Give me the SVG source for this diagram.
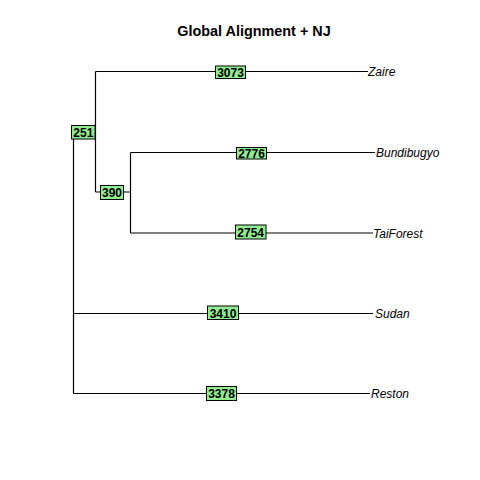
<svg xmlns="http://www.w3.org/2000/svg" width="480" height="480" viewBox="0 0 480 480">
  <style>
    .edge { stroke: #000; stroke-width: 1.2; fill: none; }
    .box { fill: #90EE90; stroke: #000; stroke-width: 1; }
    .num { font-family: "Liberation Sans", Arial, sans-serif; font-size: 12px; font-weight: bold; text-anchor: middle; fill: #000; }
    .tip { font-family: "Liberation Sans", Arial, sans-serif; font-size: 12px; font-style: italic; fill: #000; }
    .title { font-family: "Liberation Sans", Arial, sans-serif; font-size: 14.4px; font-weight: bold; text-anchor: middle; fill: #000; }
  </style>
  <rect width="480" height="480" fill="#fff"/>
  <text class="title" x="254" y="36">Global Alignment + NJ</text>

  <!-- tree branches -->
  <g id="edges">
    <path class="edge" d="M73.5,132 V393.5"/>
    <path class="edge" d="M73.5,132 H95.5"/>
    <path class="edge" d="M95.5,71.5 V192"/>
    <path class="edge" d="M95.5,71.5 H368"/>
    <path class="edge" d="M95.5,192 H130.5"/>
    <path class="edge" d="M130.5,152.5 V233"/>
    <path class="edge" d="M130.5,152.5 H375"/>
    <path class="edge" d="M130.5,233 H373"/>
    <path class="edge" d="M73.5,313.5 H373"/>
    <path class="edge" d="M73.5,393.5 H370"/>
  </g>

  <!-- internal node labels -->
  <g id="node-251">
    <rect class="box" x="71.5" y="125.5" width="23.5" height="13.5"/>
    <text class="num" x="83.3" y="136.5">251</text>
  </g>
  <g id="node-390">
    <rect class="box" x="100.5" y="185.5" width="23" height="14"/>
    <text class="num" x="112" y="196.5">390</text>
  </g>

  <!-- branch labels -->
  <g id="edge-zaire">
    <rect class="box" x="215.5" y="66" width="30" height="12.5"/>
    <text class="num" x="230.5" y="76.5">3073</text>
  </g>
  <g id="edge-bundibugyo">
    <rect class="box" x="236.5" y="147.5" width="30" height="11.5"/>
    <text class="num" x="251.5" y="157.5">2776</text>
  </g>
  <g id="edge-taiforest">
    <rect class="box" x="235.5" y="225" width="30.5" height="14"/>
    <text class="num" x="250.7" y="236.5">2754</text>
  </g>
  <g id="edge-sudan">
    <rect class="box" x="207.5" y="306" width="31" height="13.5"/>
    <text class="num" x="223" y="317.5">3410</text>
  </g>
  <g id="edge-reston">
    <rect class="box" x="206.5" y="386.5" width="30" height="14"/>
    <text class="num" x="221.5" y="398">3378</text>
  </g>

  <!-- tip labels -->
  <g id="tip-zaire"><text class="tip" x="368" y="76">Zaire</text></g>
  <g id="tip-bundibugyo"><text class="tip" x="376" y="157">Bundibugyo</text></g>
  <g id="tip-taiforest"><text class="tip" x="373" y="238">TaiForest</text></g>
  <g id="tip-sudan"><text class="tip" x="375" y="318">Sudan</text></g>
  <g id="tip-reston"><text class="tip" x="371" y="398">Reston</text></g>
</svg>
